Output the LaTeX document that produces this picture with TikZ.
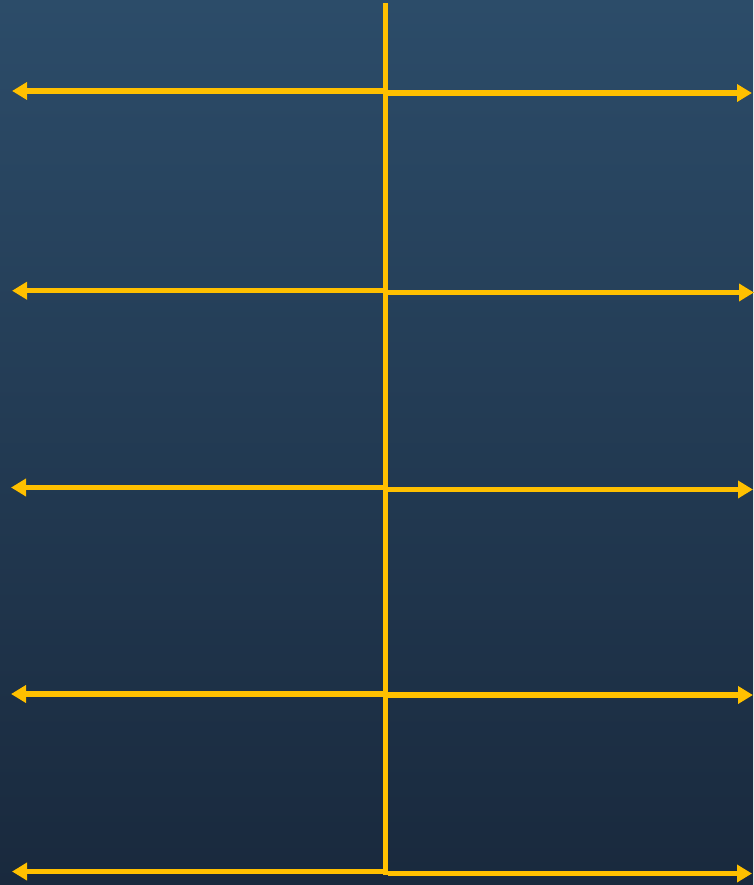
\documentclass[tikz,border=0pt]{standalone}
\usetikzlibrary{arrows.meta}
\definecolor{bgtop}{HTML}{2C4C69}
\definecolor{bgmid}{HTML}{26445F}
\definecolor{bgbot}{HTML}{19293D}
\definecolor{gold}{HTML}{FFC000}
\begin{document}
\begin{tikzpicture}[x=1pt,y=-1pt,
  goldline/.style={draw=gold,line width=5.4pt},
  goldarrow/.style={goldline,-{Triangle[length=15pt,width=17pt]}},
  shadowline/.style={draw=black,opacity=0.35,line width=5.4pt},
  shadowarrow/.style={shadowline,-{Triangle[length=15pt,width=17pt]}}]
\useasboundingbox (0,0) rectangle (753,885);
\shade[top color=bgtop,middle color=bgmid,bottom color=bgbot] (0,0) rectangle (753,885);
% coordinates
\coordinate (vt) at (385.5,3);
\coordinate (vb) at (385.5,875);
\foreach \i/\yl/\yr/\tl/\tr in {1/91/93/12/752,2/290.7/292.5/12/754,3/487.5/489.5/11/753,4/694/695/11/753,5/871.5/873.5/12/752}{
  \coordinate (cl\i) at (383,\yl);
  \coordinate (cr\i) at (388,\yr);
  \coordinate (l\i) at (\tl,\yl);
  \coordinate (r\i) at (\tr,\yr);
}
% shadows
\begin{scope}[shift={(1.5,2)}]
\draw[shadowline] (vt) -- (vb);
\foreach \i in {1,...,5}{
  \draw[shadowarrow] (cl\i) -- (l\i);
  \draw[shadowarrow] (cr\i) -- (r\i);
}
\end{scope}
% lines
\foreach \i in {1,...,5}{
  \draw[goldarrow] (cl\i) -- (l\i);
  \draw[goldarrow] (cr\i) -- (r\i);
}
\draw[goldline] (vt) -- (vb);
\end{tikzpicture}
\end{document}
